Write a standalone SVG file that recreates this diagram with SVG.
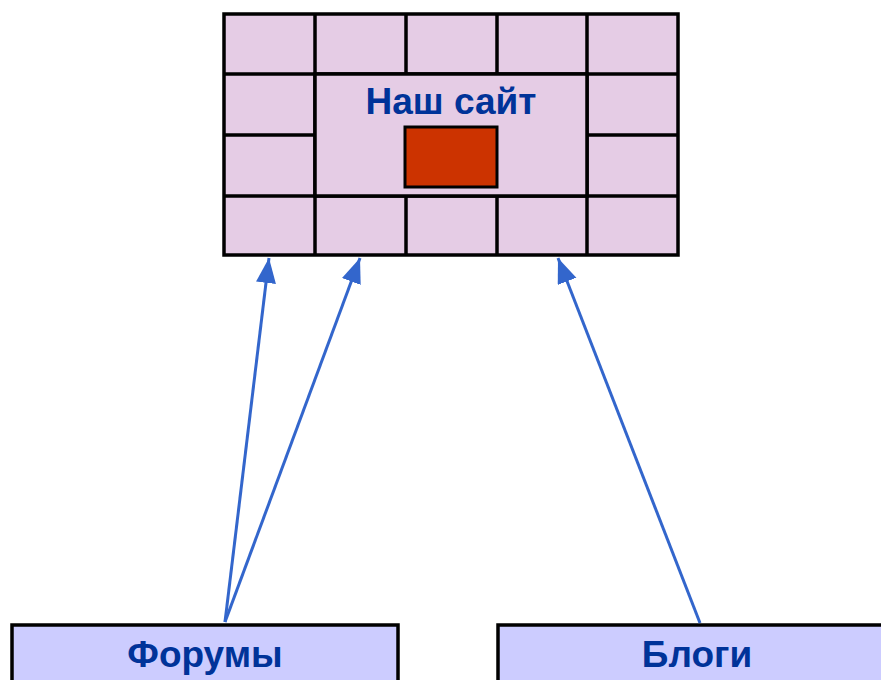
<svg xmlns="http://www.w3.org/2000/svg" width="881" height="680" viewBox="0 0 881 680">
<defs>
<style>
.cell{fill:#e5cce5;stroke:#000;stroke-width:3.5}
.lbl{font-family:"Liberation Sans",Arial,sans-serif;font-weight:bold;fill:#003399;text-anchor:middle}
.src{fill:#ccccff;stroke:#000;stroke-width:3.5}
.conn{stroke:#3366cc;stroke-width:3;fill:none}
</style>
<marker id="ah" markerUnits="userSpaceOnUse" markerWidth="28" markerHeight="22" refX="25" refY="10" orient="auto">
<path d="M0,0 L25,10 L0,20 Z" fill="#3366cc"/>
</marker>
</defs>
<g id="site">
<rect class="cell" x="224" y="14" width="454" height="241"/>
<path d="M224,74 H678 M224,135 H315 M587,135 H678 M224,196 H678 M315,14 V255 M587,14 V255 M406,14 V74 M497,14 V74 M406,196 V255 M497,196 V255" stroke="#000" stroke-width="3.5" fill="none"/>
<rect x="315" y="74" width="272" height="122" fill="#e5cce5"/>
<path d="M315,74 H587 V196 H315 Z" stroke="#000" stroke-width="3.5" fill="none"/>
<text class="lbl" x="451" y="114" font-size="37">Наш сайт</text>
<rect x="405" y="127" width="92" height="60" fill="#cc3300" stroke="#000" stroke-width="3"/>
</g>
<g id="forums">
<rect class="src" x="12" y="625" width="386" height="70"/>
<text class="lbl" x="205" y="667" font-size="37">Форумы</text>
</g>
<g id="blogs">
<rect class="src" x="498" y="625" width="400" height="70"/>
<text class="lbl" x="697" y="667" font-size="37">Блоги</text>
</g>
<g id="connectors">
<line class="conn" x1="225" y1="622" x2="269" y2="258" marker-end="url(#ah)"/>
<line class="conn" x1="225" y1="622" x2="360" y2="258" marker-end="url(#ah)"/>
<line class="conn" x1="700" y1="623" x2="558" y2="258" marker-end="url(#ah)"/>
</g>
</svg>
